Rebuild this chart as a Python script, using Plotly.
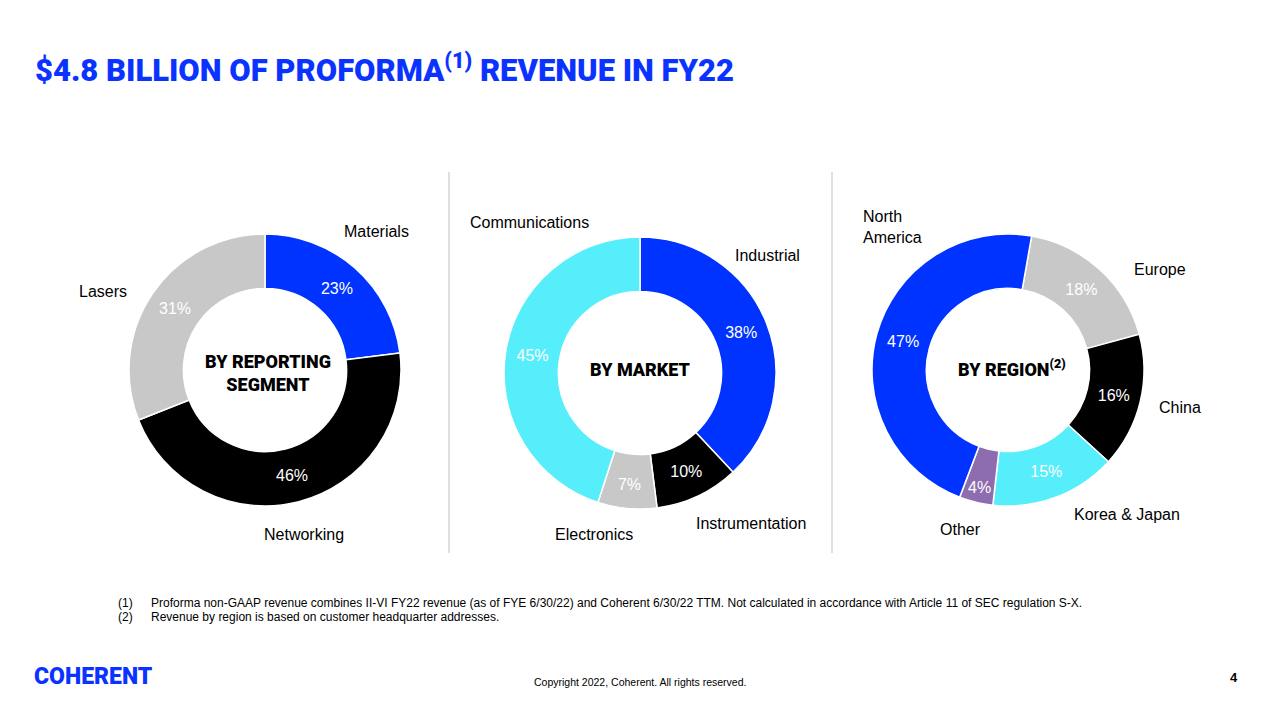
import plotly.graph_objects as go

# ---- data ----
seg_labels = ["Materials", "Networking", "Lasers"]
seg_values = [23, 46, 31]
seg_colors = ["#0033FF", "#000000", "#C8C8C8"]

mkt_labels = ["Industrial", "Instrumentation", "Electronics", "Communications"]
mkt_values = [38, 10, 7, 45]
mkt_colors = ["#0033FF", "#000000", "#C8C8C8", "#57EEFC"]

reg_labels = ["Europe", "China", "Korea & Japan", "Other", "North America"]
reg_values = [18, 16, 15, 4, 47]
reg_colors = ["#C8C8C8", "#000000", "#57EEFC", "#8E6CB0", "#0033FF"]

W, H = 1280, 720
BLUE = "#0A33FF"
SANS = "Liberation Sans, Arial, sans-serif"
COND = "Roboto, Liberation Sans, sans-serif"


def px(x):
    return x / W


def py(y):
    return 1 - y / H


def dom(cx, cy, r):
    return dict(x=[px(cx - r), px(cx + r)], y=[py(cy + r), py(cy - r)])


fig = go.Figure()

pies = [
    (seg_labels, seg_values, seg_colors, (265, 370), 0),
    (mkt_labels, mkt_values, mkt_colors, (640, 373), 0),
    (reg_labels, reg_values, reg_colors, (1008, 370), 10),
]
for labels, values, colors, (cx, cy), rot in pies:
    fig.add_trace(go.Pie(
        labels=labels, values=values,
        marker=dict(colors=colors, line=dict(color="white", width=1.5)),
        hole=0.6, sort=False, direction="clockwise", rotation=rot,
        texttemplate="%{value}%",
        textposition="inside", insidetextorientation="horizontal",
        textfont=dict(family=SANS, size=16, color="white"),
        domain=dom(cx, cy, 136), showlegend=False, hoverinfo="label+percent",
    ))

ann = []


def txt(x, y, s, size=16, color="black", anchor="center", family=SANS, weight=None):
    f = dict(family=family, size=size, color=color)
    if weight:
        f["weight"] = weight
    ann.append(dict(x=px(x), y=py(y), xref="paper", yref="paper", text=s, showarrow=False,
                    xanchor=anchor, yanchor="middle", align="left" if anchor == "left" else "center",
                    font=f))


# title
txt(33, 68, "$4.8 BILLION OF PROFORMA<sup>(1)</sup> REVENUE IN FY22",
    size=31, color=BLUE, anchor="left", family=COND, weight=900)

# outer labels
txt(376, 232, "Materials")
txt(103, 291, "Lasers")
txt(304, 534, "Networking")
txt(529, 222, "Communications")
txt(767, 255, "Industrial")
txt(751, 523, "Instrumentation")
txt(594, 534, "Electronics")
txt(861, 227, "North<br>America", anchor="left")
txt(1160, 269, "Europe")
txt(1180, 407, "China")
txt(1127, 514, "Korea & Japan")
txt(960, 529, "Other")

# center labels
txt(268, 373, "BY REPORTING<br>SEGMENT", size=18, family=COND, weight=900)
txt(640, 370, "BY MARKET", size=18, family=COND, weight=900)
txt(1012, 368, "BY REGION<sup>(2)</sup>", size=18, family=COND, weight=900)

# footnotes
txt(116, 603, "(1)", size=12, anchor="left")
txt(149, 603, "Proforma non-GAAP revenue combines II-VI FY22 revenue (as of FYE 6/30/22) and Coherent 6/30/22 TTM. Not calculated in accordance with Article 11 of SEC regulation S-X.", size=12, anchor="left")
txt(116, 617, "(2)", size=12, anchor="left")
txt(149, 617, "Revenue by region is based on customer headquarter addresses.", size=12, anchor="left")

# footer
txt(32, 676, "COHERENT", size=23, color=BLUE, anchor="left", family=COND, weight=900)
txt(640, 682, "Copyright 2022, Coherent. All rights reserved.", size=10.5)
txt(1234, 677, "<b>4</b>", size=13)

shapes = [
    dict(type="line", xref="paper", yref="paper", x0=px(449), x1=px(449), y0=py(172), y1=py(553),
         line=dict(color="#BFBFBF", width=1)),
    dict(type="line", xref="paper", yref="paper", x0=px(832), x1=px(832), y0=py(172), y1=py(553),
         line=dict(color="#BFBFBF", width=1)),
]

fig.update_layout(
    width=W, height=H, margin=dict(l=0, r=0, t=0, b=0),
    paper_bgcolor="white", plot_bgcolor="white",
    annotations=ann, shapes=shapes,
)

fig.write_html("out.html", config={"displayModeBar": False},
               post_script="document.body.style.margin='0';document.body.style.overflow='hidden';")
